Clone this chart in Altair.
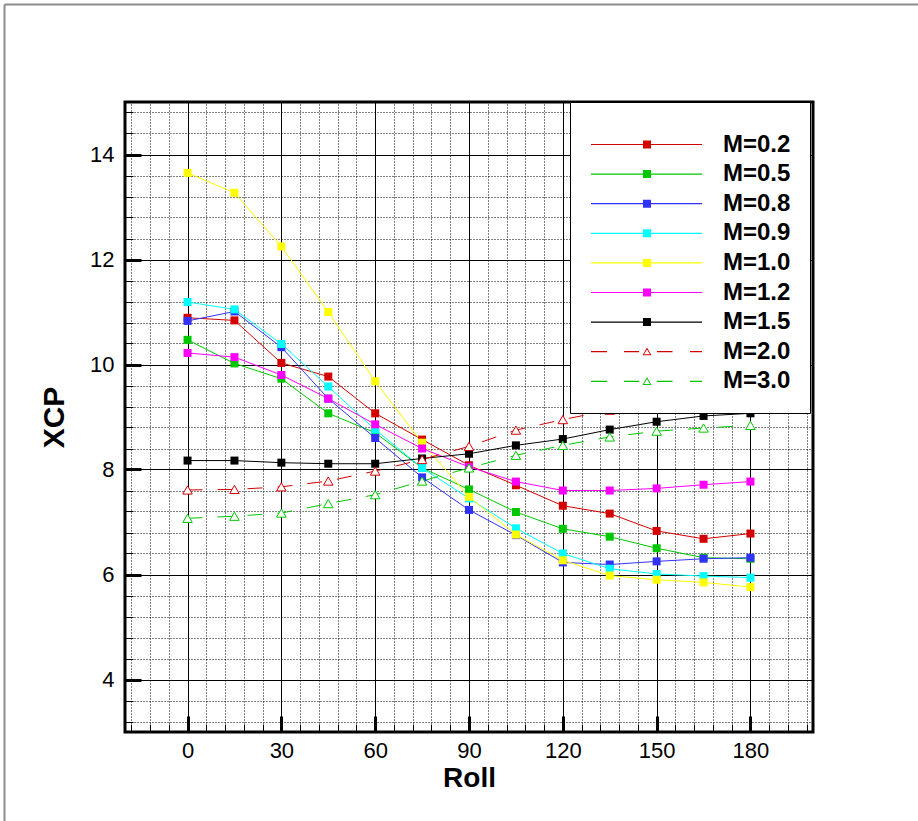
import altair as alt
import pandas as pd

# Roll angle stations (deg)
roll = [0, 15, 30, 45, 60, 75, 90, 105, 120, 135, 150, 165, 180]

series = ["M=0.2", "M=0.5", "M=0.8", "M=0.9", "M=1.0", "M=1.2", "M=1.5", "M=2.0", "M=3.0"]
colors = ["#d40000", "#00c800", "#3232ff", "#00ffff", "#ffff00", "#ff00ff", "#000000", "#d40000", "#00c800"]
square_series = series[:7]
triangle_series = series[7:]

# Centre-of-pressure location vs roll angle, one list per Mach number
xcp_m02 = [10.89, 10.84, 10.03, 9.77, 9.07, 8.57, 8.08, 7.70, 7.31, 7.16, 6.83, 6.68, 6.78]
xcp_m05 = [10.47, 10.02, 9.73, 9.07, 8.70, 8.03, 7.62, 7.19, 6.87, 6.72, 6.50, 6.32, 6.30]
xcp_m08 = [10.83, 11.01, 10.33, 9.35, 8.60, 7.85, 7.23, 6.75, 6.23, 6.19, 6.25, 6.30, 6.32]
xcp_m09 = [11.19, 11.05, 10.39, 9.58, 8.76, 8.03, 7.45, 6.88, 6.40, 6.11, 6.01, 5.97, 5.94]
xcp_m10 = [13.65, 13.27, 12.25, 11.00, 9.68, 8.51, 7.48, 6.76, 6.27, 5.98, 5.90, 5.85, 5.76]
xcp_m12 = [10.22, 10.14, 9.80, 9.35, 8.86, 8.40, 8.05, 7.77, 7.60, 7.60, 7.64, 7.71, 7.77]
xcp_m15 = [8.17, 8.17, 8.13, 8.11, 8.11, 8.21, 8.30, 8.46, 8.58, 8.76, 8.91, 9.02, 9.07]
xcp_m20 = [7.61, 7.62, 7.67, 7.78, 7.97, 8.19, 8.44, 8.75, 8.95, 9.13, 9.28, 9.40, 9.48]
xcp_m30 = [7.07, 7.11, 7.17, 7.35, 7.52, 7.78, 8.03, 8.27, 8.46, 8.62, 8.73, 8.79, 8.84]

all_xcp = [xcp_m02, xcp_m05, xcp_m08, xcp_m09, xcp_m10, xcp_m12, xcp_m15, xcp_m20, xcp_m30]

x_major = [0, 30, 60, 90, 120, 150, 180]
x_minor = [v for v in range(-18, 200, 6) if v % 30 != 0]
y_major = [4, 6, 8, 10, 12, 14]
y_minor = [round(3.2 + 0.4 * i, 1) for i in range(30)]
y_minor = [v for v in y_minor if v < 15 and abs(v / 2 - round(v / 2)) > 1e-6]

rows = []
for name, vals in zip(series, all_xcp):
    for r, v in zip(roll, vals):
        rows.append({"roll": r, "xcp": v, "series": name})
df = pd.DataFrame(rows)


# Legend glyphs: line segment with the marker in its middle, as filled SVG paths
def _rect(x0, x1, t=0.06):
    return f"M{x0},{-t}L{x1},{-t}L{x1},{t}L{x0},{t}Z"


def _square(cx, s=0.4):
    return f"M{cx - s},{-s}L{cx + s},{-s}L{cx + s},{s}L{cx - s},{s}Z"


def _tri_ring(cx):
    outer = f"M{cx},-0.42L{cx + 0.45},0.36L{cx - 0.45},0.36Z"
    inner = f"M{cx},-0.22L{cx - 0.3},0.26L{cx + 0.3},0.26Z"
    return outer + inner


MC = 4.6
solid_glyph = _rect(-1.0, 10.1) + _square(MC)
dashed_glyph = "".join(_rect(a, b) for a, b in [(-1.0, 0.6), (2.3, 3.8), (5.6, 7.15), (8.9, 10.1)]) + _tri_ring(MC)
glyphs = [solid_glyph] * 7 + [dashed_glyph] * 2

W, H = 688, 630
FONT = "Liberation Sans"

xs = alt.Scale(domain=[-20, 200], nice=False, zero=False)
ys = alt.Scale(domain=[3, 15], nice=False, zero=False)
cscale = alt.Scale(domain=series, range=colors)

ax_x_main = alt.Axis(orient="bottom", values=x_major, title="Roll", titleFont=FONT, titleFontSize=28,
                     titleFontWeight="bold", titleColor="black", titlePadding=3,
                     labelFont=FONT, labelFontSize=22, labelColor="black", labelPadding=8,
                     ticks=False, domain=False, grid=True, gridColor="#000000", gridWidth=1)
ax_x_major = alt.Axis(orient="top", offset=-H, values=x_major, labels=False, ticks=True, tickSize=16,
                      tickWidth=3, tickColor="black", domain=False, grid=False, title=None)
ax_x_minor = alt.Axis(orient="top", offset=-H, values=x_minor, labels=False, ticks=True, tickSize=8,
                      tickWidth=1, tickColor="black", domain=False, grid=True, gridColor="#000000",
                      gridWidth=1, gridDash=[1, 2], title=None)

ax_y_main = alt.Axis(orient="left", values=y_major, title="XCP", titleFont=FONT, titleFontSize=30,
                     titleFontWeight="bold", titleColor="black", titlePadding=20,
                     labelFont=FONT, labelFontSize=22, labelColor="black", labelPadding=11,
                     ticks=False, domain=False, grid=True, gridColor="#000000", gridWidth=1)
ax_y_major = alt.Axis(orient="right", offset=-W, values=y_major, labels=False, ticks=True, tickSize=16,
                      tickWidth=3, tickColor="black", domain=False, grid=False, title=None)
ax_y_minor = alt.Axis(orient="right", offset=-W, values=y_minor, labels=False, ticks=True, tickSize=8,
                      tickWidth=1, tickColor="black", domain=False, grid=True, gridColor="#000000",
                      gridWidth=1, gridDash=[1, 2], title=None)

base = alt.Chart(df)
sq_filter = alt.FieldOneOfPredicate(field="series", oneOf=square_series)
tri_filter = alt.FieldOneOfPredicate(field="series", oneOf=triangle_series)

legend = alt.Legend(
    title=" ", orient="none", legendX=445, legendY=0, fillColor="white", strokeColor="black",
    padding=19, titleFontSize=8, titlePadding=3.5, symbolSize=400, symbolStrokeWidth=0,
    symbolStrokeColor="transparent", symbolOpacity=1,
    labelFont=FONT, labelFontSize=24, labelFontWeight="bold", labelColor="black",
    labelOffset=110, rowPadding=5.6, labelLimit=300,
)

# Invisible points that only carry the legend (colour + line/marker glyph per series)
legend_layer = base.mark_point(filled=True, opacity=0, size=400).encode(
    x=alt.X("roll:Q", scale=xs, axis=None),
    y=alt.Y("xcp:Q", scale=ys, axis=None),
    color=alt.Color("series:N", scale=cscale, legend=legend),
    shape=alt.Shape("series:N", scale=alt.Scale(domain=series, range=glyphs), legend=legend),
)

solid_lines = base.transform_filter(sq_filter).mark_line(strokeWidth=1).encode(
    x=alt.X("roll:Q", scale=xs, axis=ax_x_main),
    y=alt.Y("xcp:Q", scale=ys, axis=ax_y_main),
    color=alt.Color("series:N", scale=cscale, legend=None),
)

dashed_lines = base.transform_filter(tri_filter).mark_line(strokeWidth=1, strokeDash=[15, 15]).encode(
    x=alt.X("roll:Q", scale=xs, axis=None),
    y=alt.Y("xcp:Q", scale=ys, axis=None),
    color=alt.Color("series:N", scale=cscale, legend=None),
)

squares = base.transform_filter(sq_filter).mark_point(shape="square", filled=True, size=64, opacity=1).encode(
    x=alt.X("roll:Q", scale=xs, axis=ax_x_major),
    y=alt.Y("xcp:Q", scale=ys, axis=ax_y_major),
    color=alt.Color("series:N", scale=cscale, legend=None),
)

triangles = base.transform_filter(tri_filter).mark_point(
    shape="triangle-up", filled=False, fill="white", size=90, strokeWidth=1, opacity=1
).encode(
    x=alt.X("roll:Q", scale=xs, axis=ax_x_minor),
    y=alt.Y("xcp:Q", scale=ys, axis=ax_y_minor),
    color=alt.Color("series:N", scale=cscale, legend=None),
)

# Light page frame along the top and left edges
frame_src = alt.Chart(pd.DataFrame({"k": [0]}))
frame_left = frame_src.mark_rule(color="#8c8c8c", strokeWidth=2).encode(
    x=alt.value(-120.5), y=alt.value(-97.5), y2=alt.value(H + 89)
)
frame_top = frame_src.mark_rule(color="#8c8c8c", strokeWidth=2).encode(
    x=alt.value(-120.5), x2=alt.value(W + 105), y=alt.value(-97.5)
)

chart = alt.layer(
    legend_layer, solid_lines, dashed_lines, squares, triangles, frame_left, frame_top
).resolve_axis(
    x="independent", y="independent"
).properties(
    width=W, height=H,
    padding={"left": 125, "top": 102, "right": 105, "bottom": 89},
    autosize=alt.AutoSizeParams(type="none"),
    background="white",
).configure_view(
    stroke="black", strokeWidth=3
)

chart.save("out.html", embed_options={"renderer": "svg", "actions": False})
